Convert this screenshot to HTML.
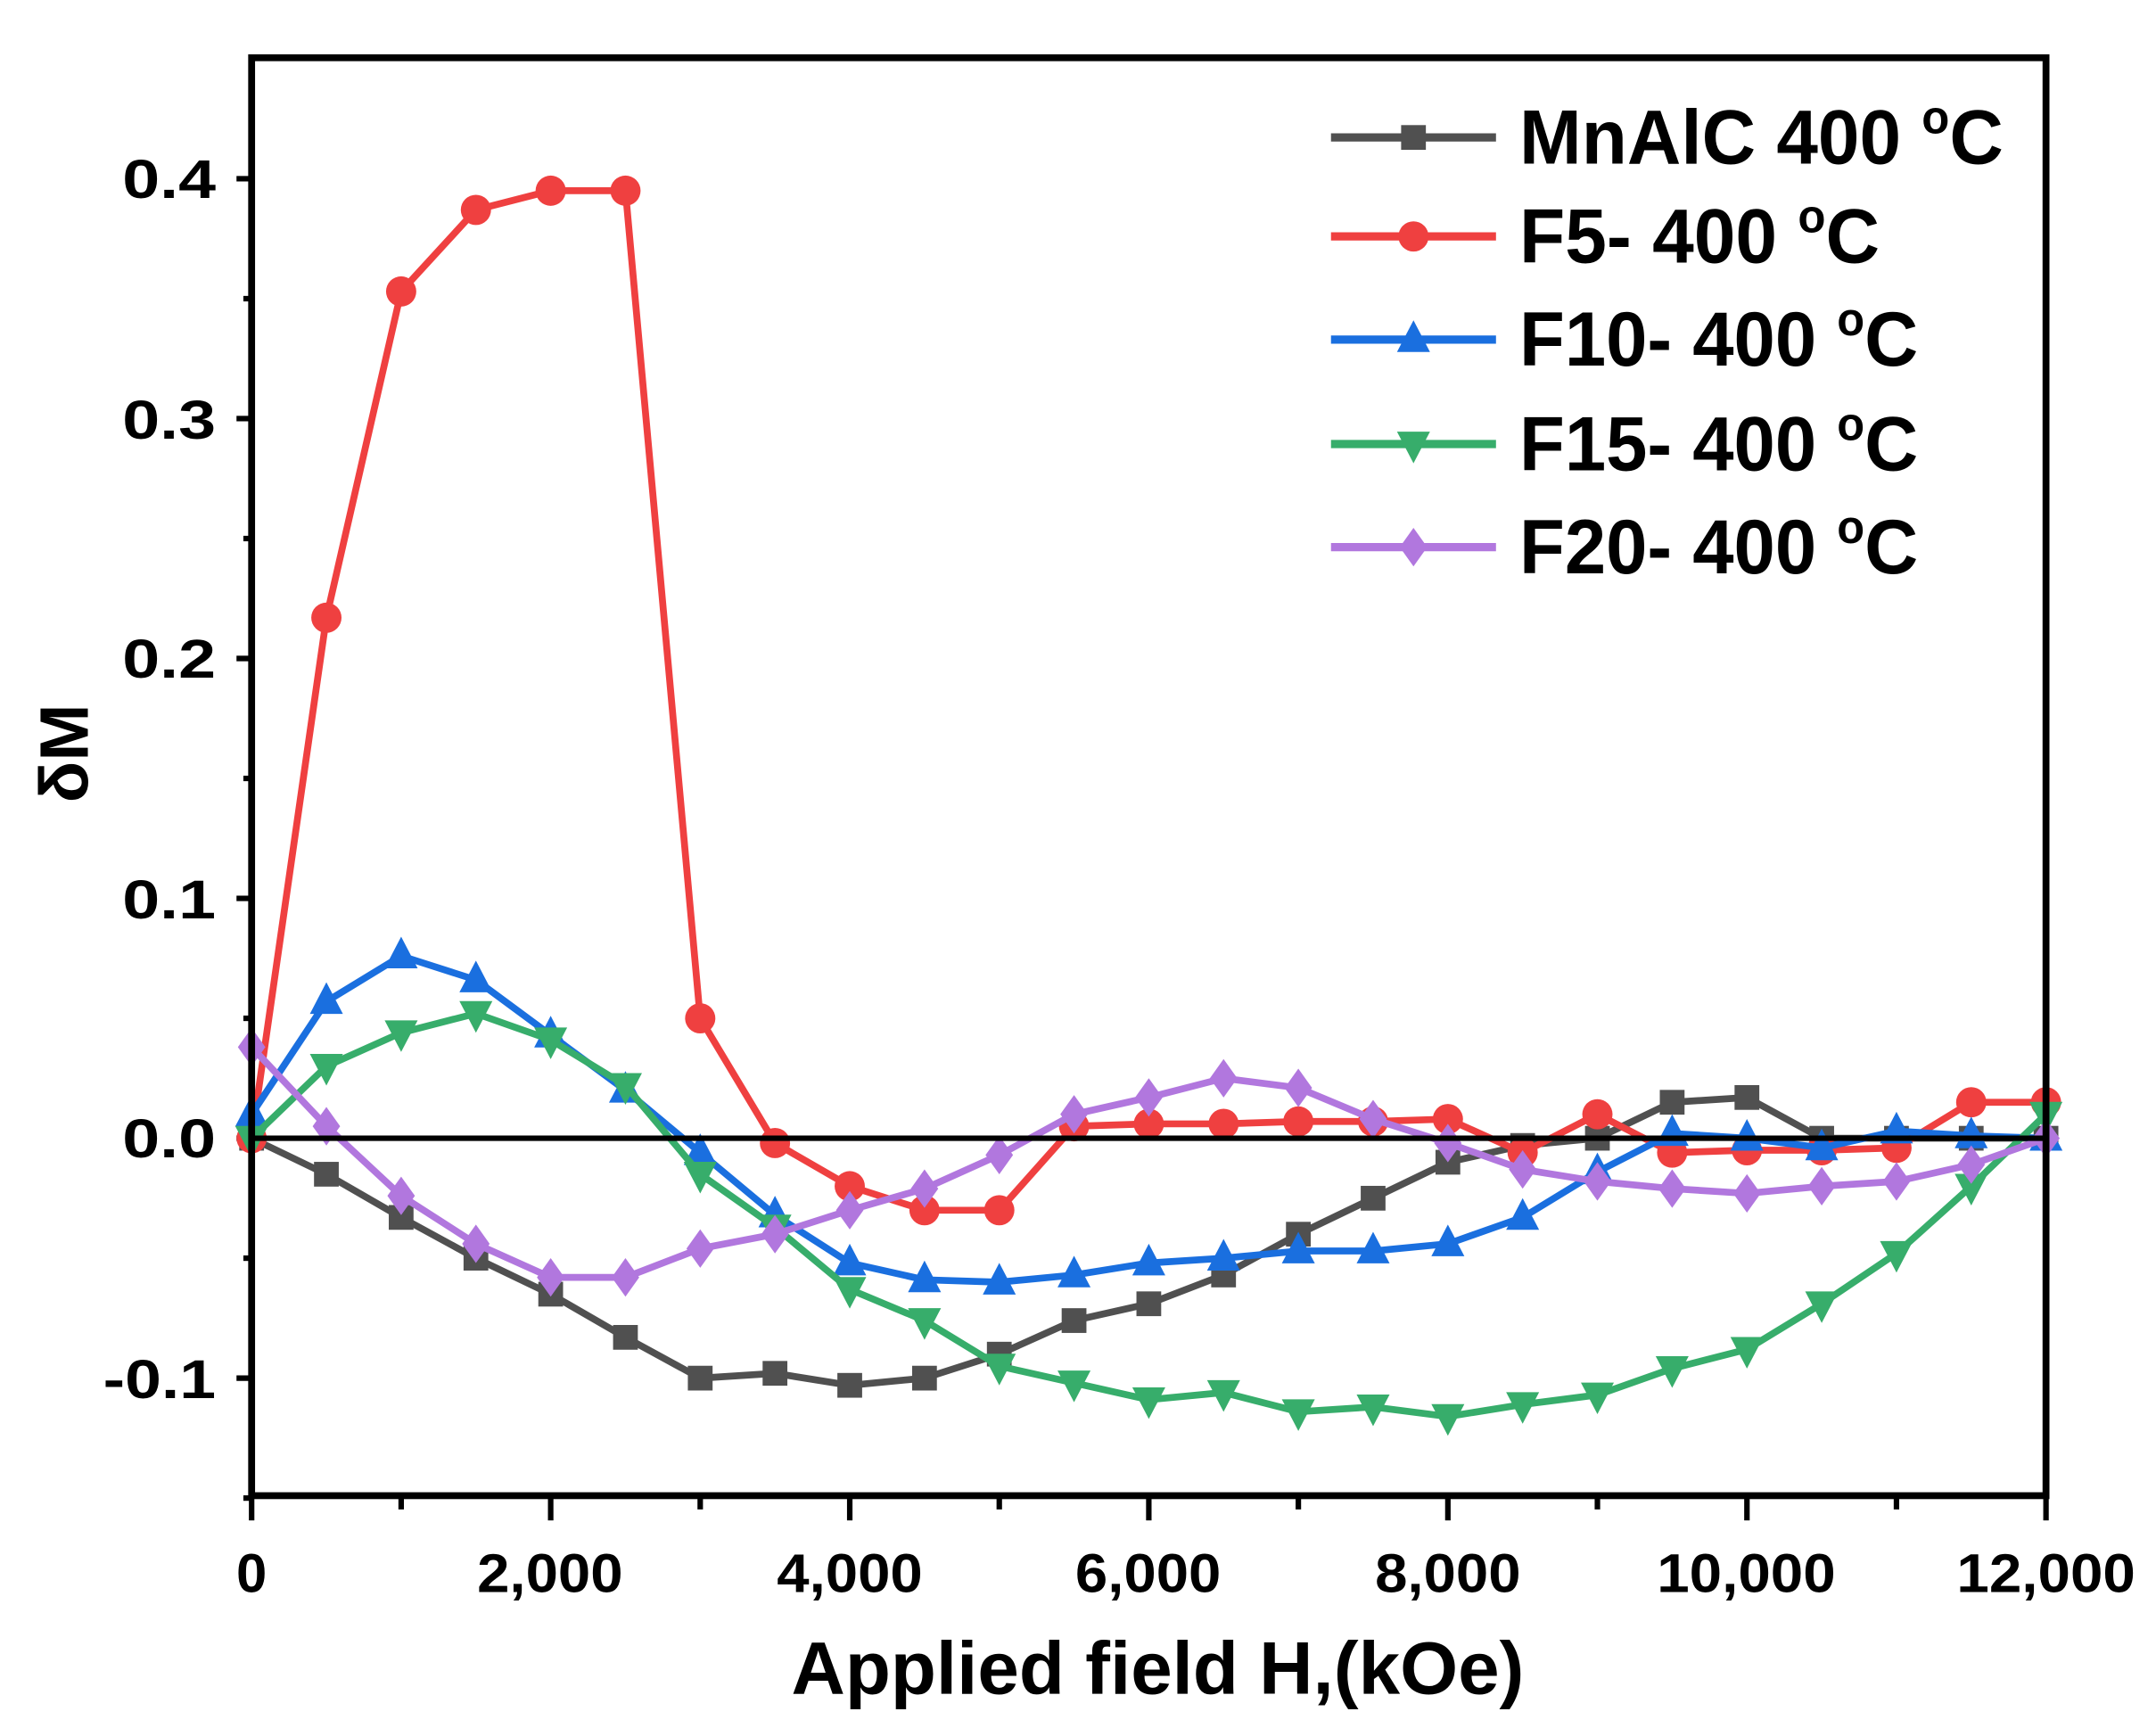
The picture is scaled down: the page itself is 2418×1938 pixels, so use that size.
<!DOCTYPE html>
<html><head><meta charset="utf-8"><style>
html,body{margin:0;padding:0;background:#fff}
svg{display:block}
text{font-family:"Liberation Sans",Arial,sans-serif;font-weight:bold;fill:#000}
</style></head><body>
<svg id="s" width="2418" height="1938" viewBox="0 0 1568 1257" preserveAspectRatio="none" xmlns="http://www.w3.org/2000/svg">
<rect width="1568" height="1257" fill="#fff"/>
<g id="axes"></g>
<g id="series"></g>
<line x1="183" y1="828" x2="1488" y2="828" stroke="#000" stroke-width="4"/>
<rect x="183" y="42" width="1305" height="1046" fill="none" stroke="#000" stroke-width="5"/>
<g font-size="40" text-anchor="end">
<text x="157" y="144" textLength="68" lengthAdjust="spacingAndGlyphs">0.4</text>
<text x="157" y="319" textLength="68" lengthAdjust="spacingAndGlyphs">0.3</text>
<text x="157" y="493" textLength="68" lengthAdjust="spacingAndGlyphs">0.2</text>
<text x="157" y="668" textLength="68" lengthAdjust="spacingAndGlyphs">0.1</text>
<text x="157" y="842" textLength="68" lengthAdjust="spacingAndGlyphs">0.0</text>
<text x="157" y="1017" textLength="82" lengthAdjust="spacingAndGlyphs">-0.1</text>
</g>
<g font-size="40" text-anchor="middle">
<text x="183" y="1158">0</text>
<text x="400" y="1158" textLength="106" lengthAdjust="spacingAndGlyphs">2,000</text>
<text x="618" y="1158" textLength="106" lengthAdjust="spacingAndGlyphs">4,000</text>
<text x="835" y="1158" textLength="106" lengthAdjust="spacingAndGlyphs">6,000</text>
<text x="1053" y="1158" textLength="106" lengthAdjust="spacingAndGlyphs">8,000</text>
<text x="1270" y="1158" textLength="130" lengthAdjust="spacingAndGlyphs">10,000</text>
<text x="1488" y="1158" textLength="130" lengthAdjust="spacingAndGlyphs">12,000</text>
</g>
<text x="842" y="1232" font-size="54" text-anchor="middle" textLength="533" lengthAdjust="spacingAndGlyphs">Applied field H,(kOe)</text>
<text transform="translate(64,548) rotate(-90)" font-size="50" text-anchor="middle">δM</text>
<g font-size="56">
<text x="1105" y="119" textLength="352" lengthAdjust="spacingAndGlyphs">MnAlC 400 <tspan font-size="34" dy="-22">o</tspan><tspan dy="22">C</tspan></text>
<text x="1105" y="191" textLength="262" lengthAdjust="spacingAndGlyphs">F5- 400 <tspan font-size="34" dy="-22">o</tspan><tspan dy="22">C</tspan></text>
<text x="1105" y="266" textLength="290" lengthAdjust="spacingAndGlyphs">F10- 400 <tspan font-size="34" dy="-22">o</tspan><tspan dy="22">C</tspan></text>
<text x="1105" y="342" textLength="290" lengthAdjust="spacingAndGlyphs">F15- 400 <tspan font-size="34" dy="-22">o</tspan><tspan dy="22">C</tspan></text>
<text x="1105" y="417" textLength="290" lengthAdjust="spacingAndGlyphs">F20- 400 <tspan font-size="34" dy="-22">o</tspan><tspan dy="22">C</tspan></text>
</g>
<g id="legend"></g>
</svg>
<script>
var NS="http://www.w3.org/2000/svg";
function el(p,t,a){var e=document.createElementNS(NS,t);for(var k in a)e.setAttribute(k,a[k]);p.appendChild(e);return e;}
var ax=document.getElementById('axes');
for(var i=-3;i<=8;i++){var y=828-i*87.25;var maj=(i%2==0);el(ax,'line',{x1:maj?172:177,x2:183,y1:y,y2:y,stroke:'#000','stroke-width':4});}
for(var v=0;v<=12000;v+=1000){var x=183+v*0.10875;var maj=(v%2000==0);el(ax,'line',{x1:x,x2:x,y1:1088,y2:maj?1106:1098,stroke:'#000','stroke-width':4});}
function X(v){return 183+v*0.10875}function Y(d){return 828-d*1745}
var S=[
['#505050','sq',[0,-0.015,-0.033,-0.05,-0.065,-0.083,-0.1,-0.098,-0.103,-0.1,-0.09,-0.076,-0.069,-0.057,-0.04,-0.025,-0.01,-0.003,0,0.015,0.017,0,0,0,0]],
['#ef4040','ci',[0,0.217,0.353,0.387,0.395,0.395,0.05,-0.002,-0.02,-0.03,-0.03,0.005,0.006,0.006,0.007,0.007,0.008,-0.006,0.01,-0.006,-0.005,-0.005,-0.004,0.015,0.015]],
['#1a6fdf','tu',[0.01,0.057,0.076,0.066,0.043,0.02,-0.006,-0.032,-0.052,-0.059,-0.06,-0.057,-0.052,-0.05,-0.047,-0.047,-0.044,-0.033,-0.014,0.002,0,-0.004,0.003,0.001,0]],
['#37ad6b','td',[0,0.03,0.044,0.052,0.041,0.022,-0.015,-0.037,-0.063,-0.076,-0.095,-0.102,-0.109,-0.106,-0.114,-0.112,-0.116,-0.111,-0.107,-0.096,-0.088,-0.069,-0.048,-0.02,0.01]],
['#b177de','di',[0.038,0.005,-0.024,-0.044,-0.058,-0.058,-0.046,-0.04,-0.03,-0.021,-0.007,0.01,0.017,0.025,0.021,0.008,-0.002,-0.013,-0.018,-0.021,-0.023,-0.02,-0.018,-0.011,0]]];
function mk(g,t,x,y,c){
 if(t=='sq')el(g,'rect',{x:x-9,y:y-9,width:18,height:18,fill:c});
 else if(t=='ci')el(g,'circle',{cx:x,cy:y,r:11,fill:c});
 else if(t=='tu')el(g,'polygon',{points:(x)+','+(y-14)+' '+(x-12)+','+(y+9)+' '+(x+12)+','+(y+9),fill:c});
 else if(t=='td')el(g,'polygon',{points:(x)+','+(y+14)+' '+(x-12)+','+(y-9)+' '+(x+12)+','+(y-9),fill:c});
 else el(g,'polygon',{points:x+','+(y-14)+' '+(x+10)+','+y+' '+x+','+(y+14)+' '+(x-10)+','+y,fill:c});
}
var sg=document.getElementById('series'),lg=document.getElementById('legend');
S.forEach(function(s,k){
 var pts=s[2].map(function(d,i){return X(i*500)+','+Y(d)}).join(' ');
 el(sg,'polyline',{points:pts,fill:'none',stroke:s[0],'stroke-width':5,'stroke-linejoin':'round'});
 s[2].forEach(function(d,i){mk(sg,s[1],X(i*500),Y(d),s[0])});
 var ly=[100,172,247,323,398][k];
 el(lg,'line',{x1:968,x2:1088,y1:ly,y2:ly,stroke:s[0],'stroke-width':6});
 mk(lg,s[1],1028,ly,s[0]);
});
</script>
</body></html>
